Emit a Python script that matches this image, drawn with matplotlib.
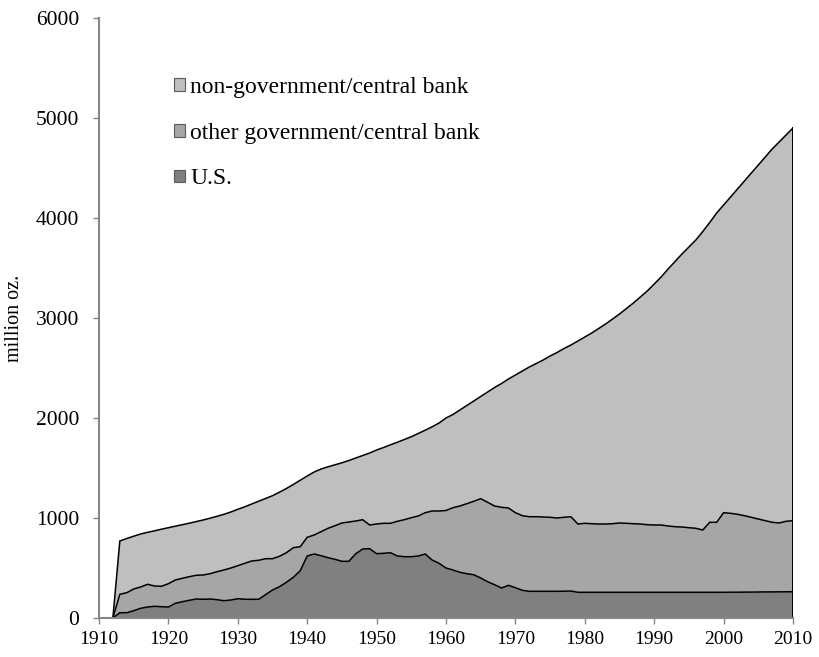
import numpy as np
import matplotlib
matplotlib.use("Agg")
import matplotlib.pyplot as plt
from matplotlib.patches import Patch

plt.rcParams["font.family"] = ["Liberation Serif", "DejaVu Serif"]

years = list(range(1912, 2011))

# U.S. official gold holdings (million oz.)
us_holdings = [
    0, 53, 53, 73, 97, 110, 117, 113, 110, 147,          # 1912-1921
    163, 177, 190, 187, 190, 183, 173, 180, 193, 187,    # 1922-1931
    187, 187, 233, 280, 313, 357, 407, 473, 620, 640,    # 1932-1941
    623, 603, 587, 567, 567, 643, 690, 693, 643, 647,    # 1942-1951
    653, 620, 613, 613, 620, 640, 580, 547, 500, 480,    # 1952-1961
    457, 443, 433, 400, 363, 333, 300, 327, 303, 277,    # 1962-1971
    267, 267, 267, 267, 267, 268, 270, 257, 257, 257,    # 1972-1981
    257, 257, 257, 257, 257, 257, 257, 257, 257, 257,    # 1982-1991
    257, 257, 257, 257, 257, 257, 257, 257, 257, 258,    # 1992-2001
    258, 259, 259, 260, 261, 261, 262, 262, 263,         # 2002-2010
]

# All government / central bank holdings, U.S. included (million oz.)
official_total = [
    0, 237, 253, 290, 310, 337, 320, 317, 343, 380,      # 1912-1921
    397, 413, 427, 430, 443, 463, 480, 500, 523, 547,    # 1922-1931
    570, 577, 593, 593, 617, 653, 703, 713, 807, 830,    # 1932-1941
    863, 897, 923, 950, 960, 970, 983, 930, 940, 947,    # 1942-1951
    947, 967, 983, 1003, 1020, 1053, 1070, 1070, 1075, 1103,   # 1952-1961
    1120, 1143, 1167, 1193, 1157, 1120, 1107, 1100, 1053, 1023,  # 1962-1971
    1013, 1013, 1010, 1007, 1000, 1007, 1013, 940, 947, 943,     # 1972-1981
    940, 940, 943, 950, 947, 943, 940, 933, 930, 930,            # 1982-1991
    920, 913, 910, 903, 897, 880, 957, 957, 1053, 1047,          # 1992-2001
    1037, 1023, 1007, 990, 973, 957, 950, 967, 973,              # 2002-2010
]

# Total above-ground gold stock (million oz.)
above_ground_total = [
    0, 770, 795, 818, 840, 857, 872, 888, 903, 918,      # 1912-1921
    933, 948, 964, 980, 998, 1017, 1037, 1060, 1087, 1112,   # 1922-1931
    1140, 1168, 1195, 1223, 1258, 1295, 1335, 1378, 1420, 1460,  # 1932-1941
    1490, 1512, 1532, 1552, 1575, 1600, 1625, 1650, 1680, 1705,  # 1942-1951
    1732, 1758, 1785, 1813, 1845, 1878, 1912, 1950, 2000, 2035,  # 1952-1961
    2080, 2125, 2170, 2215, 2260, 2305, 2345, 2390, 2430, 2470,  # 1962-1971
    2510, 2545, 2580, 2620, 2655, 2695, 2730, 2770, 2810, 2850,  # 1972-1981
    2895, 2940, 2990, 3040, 3095, 3150, 3210, 3270, 3340, 3410,  # 1982-1991
    3490, 3565, 3640, 3710, 3780, 3865, 3955, 4050, 4130, 4210,  # 1992-2001
    4290, 4370, 4450, 4530, 4610, 4690, 4760, 4830, 4900,        # 2002-2010
]

series_labels = ["U.S.", "other government/central bank", "non-government/central bank"]
series_colors = ["#808080", "#a6a6a6", "#bfbfbf"]

yrs = np.array(years)
us = np.array(us_holdings, dtype=float)
other_gov = np.array(official_total, dtype=float) - us
non_gov = np.array(above_ground_total, dtype=float) - np.array(official_total, dtype=float)

fig = plt.figure(figsize=(8.19, 6.57), dpi=100)
ax = fig.add_axes([99 / 819, 39 / 657, 694 / 819, 600 / 657])

ax.stackplot(yrs, us, other_gov, non_gov, colors=series_colors, linewidth=0)

# black outlines on top of each layer
cum = np.cumsum(np.vstack([us, other_gov, non_gov]), axis=0)
for row in cum:
    ax.plot(yrs, row, color="black", lw=1.1, solid_joinstyle="miter")
ax.plot([yrs[-1], yrs[-1]], [0, cum[-1][-1]], color="black", lw=1.4)

ax.set_xlim(1910, 2010)
ax.set_ylim(0, 6000)
ax.set_xticks(range(1910, 2011, 10))
ax.set_yticks(range(0, 6001, 1000))
ax.tick_params(axis="x", labelsize=14, length=4.3, width=1, color="#868686", pad=5)
ax.tick_params(axis="y", labelsize=15.5, length=4.3, width=1, color="#868686", pad=10)

for side in ("top", "right"):
    ax.spines[side].set_visible(False)
for side in ("left", "bottom"):
    ax.spines[side].set_color("#868686")
    ax.spines[side].set_linewidth(1.5)

ax.set_ylabel("million oz.", fontsize=14.5)
ax.yaxis.set_label_coords(-0.108, 0.5)

handles = [Patch(facecolor=c, edgecolor="#5a5a5a", linewidth=0.8)
           for c in series_colors]
leg = ax.legend(handles[::-1], series_labels[::-1], loc="upper left",
                bbox_to_anchor=(0.108, 0.902), frameon=False, fontsize=17,
                handlelength=0.45, handleheight=0.45, handletextpad=0.25,
                labelspacing=1.05, borderaxespad=0, borderpad=0)

fig.savefig("out.png", dpi=100)
